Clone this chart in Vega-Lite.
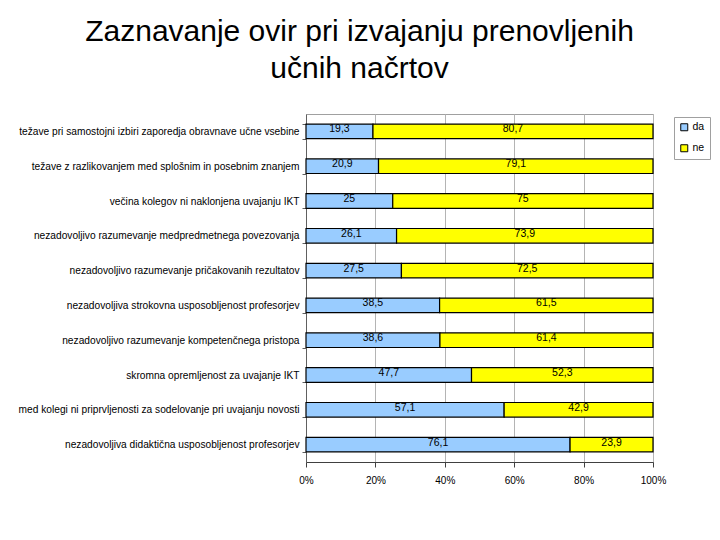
{
  "$schema": "https://vega.github.io/schema/vega-lite/v6.json",
  "autosize": {"type": "none"},
  "width": 347,
  "height": 348,
  "padding": {"left": 306, "top": 114, "right": 67, "bottom": 78},
  "background": "white",
  "title": {
    "text": ["Zaznavanje ovir pri izvajanju prenovljenih", "učnih načrtov"],
    "font": "Liberation Sans",
    "fontSize": 30,
    "fontWeight": "normal",
    "color": "black",
    "lineHeight": 37,
    "anchor": "middle",
    "frame": "group",
    "dx": -120,
    "offset": 25
  },
  "config": {
    "locale": {"number": {"decimal": ",", "thousands": ".", "grouping": [3], "currency": ["", " €"]}},
    "font": "Liberation Sans",
    "view": {"stroke": "#A0A0A0", "strokeWidth": 1}
  },
  "data": {
    "values": [
      {"cat": "težave pri samostojni izbiri zaporedja obravnave učne vsebine", "resp": "da", "value": 19.3},
      {"cat": "težave pri samostojni izbiri zaporedja obravnave učne vsebine", "resp": "ne", "value": 80.7},
      {"cat": "težave z razlikovanjem med splošnim in posebnim znanjem", "resp": "da", "value": 20.9},
      {"cat": "težave z razlikovanjem med splošnim in posebnim znanjem", "resp": "ne", "value": 79.1},
      {"cat": "večina kolegov ni naklonjena uvajanju IKT", "resp": "da", "value": 25},
      {"cat": "večina kolegov ni naklonjena uvajanju IKT", "resp": "ne", "value": 75},
      {"cat": "nezadovoljivo razumevanje medpredmetnega povezovanja", "resp": "da", "value": 26.1},
      {"cat": "nezadovoljivo razumevanje medpredmetnega povezovanja", "resp": "ne", "value": 73.9},
      {"cat": "nezadovoljivo razumevanje pričakovanih rezultatov", "resp": "da", "value": 27.5},
      {"cat": "nezadovoljivo razumevanje pričakovanih rezultatov", "resp": "ne", "value": 72.5},
      {"cat": "nezadovoljiva strokovna usposobljenost profesorjev", "resp": "da", "value": 38.5},
      {"cat": "nezadovoljiva strokovna usposobljenost profesorjev", "resp": "ne", "value": 61.5},
      {"cat": "nezadovoljivo razumevanje kompetenčnega pristopa", "resp": "da", "value": 38.6},
      {"cat": "nezadovoljivo razumevanje kompetenčnega pristopa", "resp": "ne", "value": 61.4},
      {"cat": "skromna opremljenost za uvajanje IKT", "resp": "da", "value": 47.7},
      {"cat": "skromna opremljenost za uvajanje IKT", "resp": "ne", "value": 52.3},
      {"cat": "med kolegi ni priprvljenosti za sodelovanje pri uvajanju novosti", "resp": "da", "value": 57.1},
      {"cat": "med kolegi ni priprvljenosti za sodelovanje pri uvajanju novosti", "resp": "ne", "value": 42.9},
      {"cat": "nezadovoljiva didaktična usposobljenost profesorjev", "resp": "da", "value": 76.1},
      {"cat": "nezadovoljiva didaktična usposobljenost profesorjev", "resp": "ne", "value": 23.9}
    ]
  },
  "transform": [
    {"stack": "value", "groupby": ["cat"], "sort": [{"field": "resp", "order": "ascending"}], "as": ["x0", "x1"]}
  ],
  "encoding": {
    "y": {
      "field": "cat",
      "type": "nominal",
      "sort": null,
      "title": null,
      "scale": {"paddingInner": 0.58, "paddingOuter": 0.29},
      "axis": {
        "labelFontSize": 10.2,
        "labelColor": "black",
        "labelLimit": 400,
        "tickBand": "extent",
        "tickSize": 4,
        "tickColor": "#606060",
        "domainColor": "#606060",
        "labelPadding": 3
      }
    }
  },
  "layer": [
    {
      "mark": {"type": "bar", "stroke": "black", "strokeWidth": 1.2},
      "encoding": {
        "x": {
          "field": "x0",
          "type": "quantitative",
          "scale": {"domain": [0, 100], "nice": false},
          "title": null,
          "axis": {
            "values": [0, 10, 20, 30, 40, 50, 60, 70, 80, 90, 100],
            "tickCount": 10,
            "labelExpr": "datum.value + '%'",
            "labelOverlap": false,
            "labelFlush": false,
            "labelFontSize": 10,
            "labelColor": "black",
            "grid": true,
            "gridColor": "#B4B4B4",
            "gridWidth": 1,
            "tickSize": 5,
            "tickWidth": 1,
            "tickColor": "#404040",
            "domainColor": "#404040",
            "labelPadding": 8
          }
        },
        "x2": {"field": "x1"},
        "color": {
          "field": "resp",
          "type": "nominal",
          "scale": {"domain": ["da", "ne"], "range": ["#99CCFF", "#FFFF00"]},
          "legend": {
            "title": null,
            "orient": "none",
            "legendX": 368,
            "legendY": 3,
            "symbolType": "square",
            "symbolSize": 49,
            "symbolStrokeColor": "black",
            "symbolStrokeWidth": 1,
            "labelFontSize": 10.5,
            "labelOffset": 3,
            "labelColor": "black",
            "rowPadding": 9,
            "padding": 5,
            "strokeColor": "#A0A0A0",
            "fillColor": "white"
          }
        }
      }
    },
    {
      "transform": [
        {"fold": ["x0", "x1"], "as": ["edge", "xv"]},
        {"aggregate": [{"op": "mean", "field": "xv", "as": "xm"}], "groupby": ["cat", "resp", "value"]}
      ],
      "mark": {"type": "text", "fontSize": 10.5, "color": "black", "baseline": "middle", "dy": -2},
      "encoding": {
        "x": {
          "field": "xm",
          "type": "quantitative",
          "title": null,
          "axis": {
            "values": [0, 10, 20, 30, 40, 50, 60, 70, 80, 90, 100],
            "tickCount": 10,
            "labelExpr": "datum.value + '%'",
            "labelOverlap": false,
            "labelFlush": false,
            "labelFontSize": 10,
            "labelColor": "black",
            "grid": true,
            "gridColor": "#B4B4B4",
            "gridWidth": 1,
            "tickSize": 5,
            "tickWidth": 1,
            "tickColor": "#404040",
            "domainColor": "#404040",
            "labelPadding": 8
          }
        },
        "text": {"field": "value", "type": "quantitative", "format": ".3~r"}
      }
    }
  ]
}
